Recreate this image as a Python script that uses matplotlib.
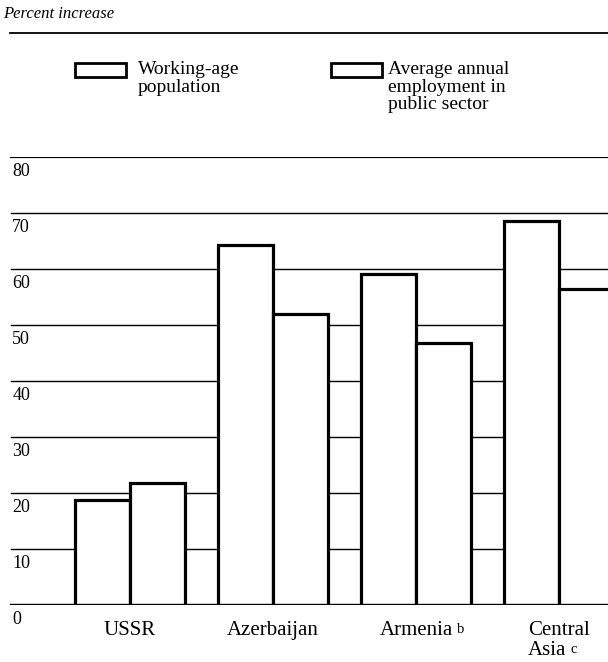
import matplotlib
matplotlib.use("Agg")
import matplotlib.pyplot as plt
import numpy as np
from matplotlib.patches import Rectangle
from matplotlib.lines import Line2D
from matplotlib.transforms import offset_copy, blended_transform_factory

plt.rcParams['font.family'] = ['Liberation Serif', 'DejaVu Serif']

regions = ["USSR", "Azerbaijan", "Armenia", "Central\nAsia"]
notes = ["", "", "b", "c"]
working_age = [18.7, 64.2, 59.1, 68.6]
public_emp = [21.8, 52.0, 46.8, 56.4]
series_names = ["Working-age\npopulation", "Average annual\nemployment in\npublic sector"]
yticks = [0, 10, 20, 30, 40, 50, 60, 70, 80]

W, H = 608, 662
fig = plt.figure(figsize=(W / 100, H / 100), dpi=100)
fig.patch.set_facecolor('white')

def fx(px):
    return px / W

def fy(py):
    return 1 - py / H

ax = fig.add_axes([0, fy(605), 1, fy(157) - fy(605)])
ax.set_xlim(-0.909, 3.343)
ax.set_ylim(0, 80)
ax.axis('off')

# grid lines (hidden behind the white bars)
for v in yticks:
    lw = 1.6 if v in (0, 80) else 1.0
    ax.axhline(v, xmin=0.018, xmax=1, color='black', lw=lw, zorder=1)

x = np.arange(len(regions))
w = 0.385
ax.bar(x - w / 2, working_age, w, facecolor='white', edgecolor='black', lw=2.3, zorder=2)
ax.bar(x + w / 2, public_emp, w, facecolor='white', edgecolor='black', lw=2.3, zorder=2)
ax.axhline(0, xmin=0.018, xmax=1, color='black', lw=1.6, zorder=3)

# y labels sit just under their grid line, at the left
tr = offset_copy(blended_transform_factory(ax.transAxes, ax.transData), fig, x=0, y=-15, units='dots')
for v in yticks:
    ax.text(0.02, v, str(v), transform=tr, ha='left', va='center', fontsize=13)

# region labels, extra lines left-aligned under the first one
lt = offset_copy(ax.transData, fig, y=-16, units='dots')
for xi, name, note in zip(x, regions, notes):
    lines = name.split("\n")
    t = ax.text(xi, 0, lines[0], transform=lt, ha='center', va='top', fontsize=15)
    for ln in lines[1:]:
        t = ax.annotate(ln, xy=(0, 0), xycoords=t, xytext=(0, -1), textcoords='offset points',
                        ha='left', va='top', fontsize=15)
    if note:
        ax.annotate(note, xy=(1, 0.55), xycoords=t, xytext=(3, 0), textcoords='offset points',
                    ha='left', va='center', fontsize=10.5)

# header
fig.text(fx(3), fy(14), "Percent increase", ha='left', va='center', fontsize=12, style='italic')
fig.add_artist(Line2D([fx(10), 1], [fy(33), fy(33)], color='black', lw=1.3, transform=fig.transFigure))

# legend
for bx, tx, label in zip([75, 331], [138, 388], series_names):
    fig.add_artist(Rectangle((fx(bx), fy(77)), fx(51), fy(63) - fy(77), facecolor='white',
                             edgecolor='black', lw=2.0, transform=fig.transFigure))
    fig.text(fx(tx), fy(61), label, ha='left', va='top', fontsize=14, linespacing=1.05)

fig.savefig("out.png", dpi=100, facecolor='white')
